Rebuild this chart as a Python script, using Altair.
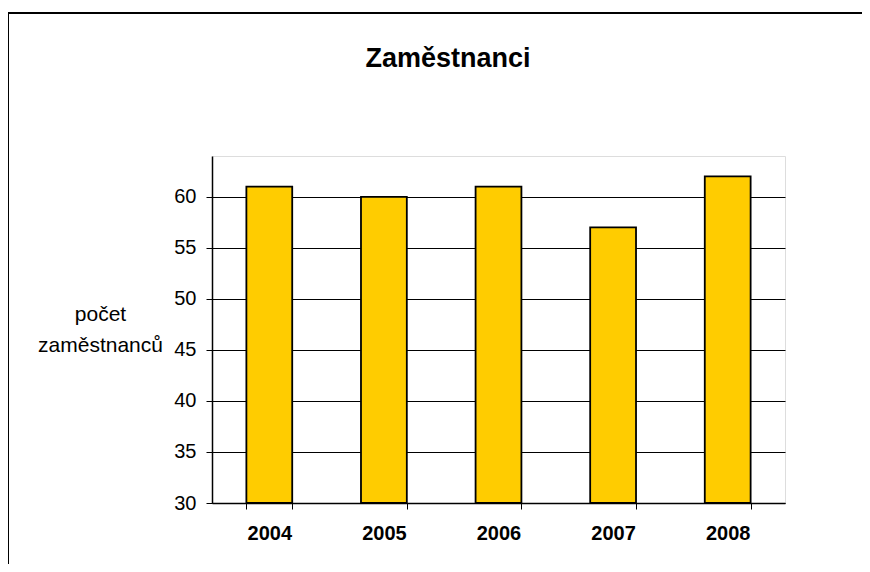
import altair as alt
import pandas as pd

years = ["2004", "2005", "2006", "2007", "2008"]
counts = [61, 60, 61, 57, 62]
y_ticks = [30, 35, 40, 45, 50, 55, 60]
chart_title = "Zaměstnanci"

df = pd.DataFrame({"rok": years, "pocet": counts})

FONT = "Liberation Sans"
W, H = 573, 347

bars = alt.Chart(df).mark_bar(
    color="#FFCC00", stroke="#000000", strokeWidth=1.8
).encode(
    x=alt.X(
        "rok:N",
        sort=years,
        scale=alt.Scale(paddingInner=0.6, paddingOuter=0.3),
        axis=alt.Axis(
            title=None, labelAngle=0, labelFont=FONT, labelFontSize=20,
            labelFontWeight="bold", labelColor="#000000", labelPadding=14,
            tickBand="extent", tickSize=6, tickColor="#000000", domainColor="#000000",
            domainWidth=1.5, grid=False,
        ),
    ),
    y=alt.Y(
        "pocet:Q",
        scale=alt.Scale(domain=[30, 64], zero=False, nice=False),
        axis=alt.Axis(
            values=y_ticks, title=["počet", "zaměstnanců"], titleAngle=0,
            titleFont=FONT, titleFontSize=21, titleFontWeight="normal",
            titleColor="#000000", titleAlign="center", titleBaseline="alphabetic",
            titleX=-112, titleY=164, titleLineHeight=31,
            labelFont=FONT, labelFontSize=20, labelColor="#000000", labelPadding=10,
            tickSize=6, tickColor="#000000", domainColor="#000000", domainWidth=1.5,
            grid=True, gridColor="#000000", gridWidth=1,
        ),
    ),
    y2=alt.datum(30),
)

one = alt.Data(values=[{"k": 1}])
frame_left = alt.Chart(one).mark_rule(color="#000000", strokeWidth=2).encode(
    x=alt.value(-204), y=alt.value(-143), y2=alt.value(H + 200)
)
frame_top = alt.Chart(one).mark_rule(color="#000000", strokeWidth=2).encode(
    x=alt.value(-205), x2=alt.value(W + 200), y=alt.value(-143)
)
title_text = alt.Chart(one).mark_text(
    font=FONT, fontSize=27, fontWeight="bold", color="#000000",
    align="center", baseline="alphabetic",
).encode(
    x=alt.value(236), y=alt.value(-89), text=alt.value(chart_title)
)

chart = alt.layer(bars, frame_left, frame_top, title_text).properties(
    width=W, height=H,
    autosize=alt.AutoSizeParams(type="none"),
    padding={"left": 204, "top": 148, "right": 77, "bottom": 61},
).configure_view(
    fill="#C0C0C0", stroke="#808080", strokeWidth=2
).configure(background="#FFFFFF")

chart.save("out.html", embed_options={"renderer": "svg", "actions": False})
